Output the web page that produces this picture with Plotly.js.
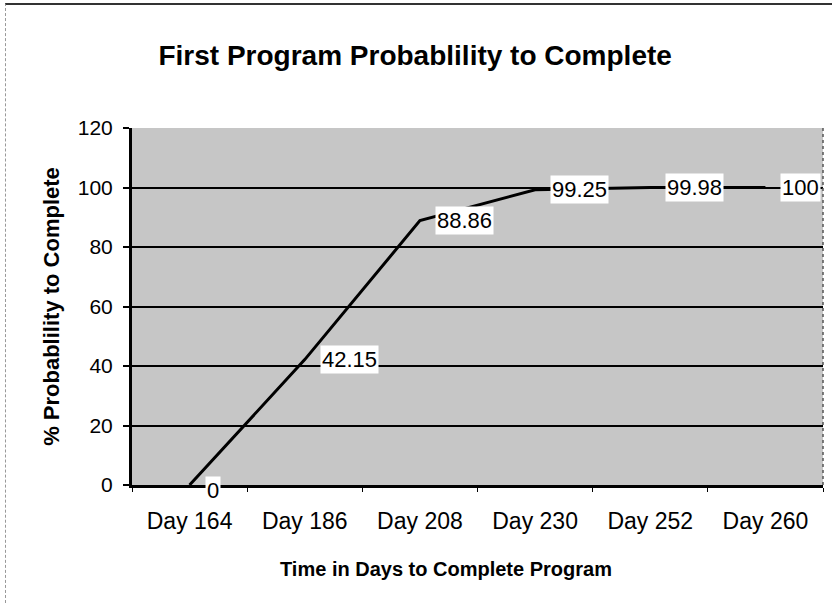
<!DOCTYPE html>
<html>
<head>
<meta charset="utf-8">
<script src="https://cdn.plot.ly/plotly-3.0.1.min.js"></script>
<style>
html,body{margin:0;padding:0;background:#fff;}
#chart{width:832px;height:603px;}
#frame{position:absolute;left:5px;top:3px;width:827px;height:600px;border-top:2px solid #333;border-left:1px dashed #999;pointer-events:none;box-sizing:border-box;}
</style>
</head>
<body>
<div id="chart"></div>
<div id="frame"></div>
<script>
var categories = ["Day 164", "Day 186", "Day 208", "Day 230", "Day 252", "Day 260"];
var probability = [0, 42.15, 88.86, 99.25, 99.98, 100];
var yTicks = [0, 20, 40, 60, 80, 100, 120];

var FONT = "Liberation Sans, Arial, Helvetica, sans-serif";

var trace = {
  x: categories,
  y: probability,
  type: "scatter",
  mode: "lines",
  line: {color: "#000", width: 3},
  hoverinfo: "skip"
};

var annotations = categories.map(function (c, i) {
  return {
    x: c, y: probability[i], xref: "x", yref: "y",
    text: String(probability[i]),
    showarrow: false,
    xanchor: "left", yanchor: "middle",
    xshift: 15, yshift: probability[i] === 0 ? -5 : 0,
    bgcolor: "#ffffff", borderpad: 1,
    font: {family: FONT, size: 22, color: "#000"}
  };
});

annotations.push({
  text: "<b>Time in Days to Complete Program</b>",
  xref: "paper", yref: "paper", x: 0.455, y: -0.236,
  xanchor: "center", yanchor: "middle", showarrow: false,
  font: {family: FONT, size: 20, color: "#000"}
});

var layout = {
  width: 832, height: 603,
  margin: {l: 132, r: 9, t: 128, b: 118},
  paper_bgcolor: "rgba(0,0,0,0)",
  plot_bgcolor: "#c6c6c6",
  showlegend: false,
  title: {
    text: "<b>First Program Probablility to Complete</b>",
    font: {family: FONT, size: 28, color: "#000"},
    xref: "container", yref: "container",
    x: 0.499, xanchor: "center", y: 0.909, yanchor: "middle"
  },
  xaxis: {
    type: "category",
    range: [-0.5, 5.5],
    tickson: "boundaries",
    ticks: "outside", ticklen: 4, tickwidth: 1, tickcolor: "#000",
    showline: true, linecolor: "#000", linewidth: 3,
    showgrid: false, zeroline: false,
    tickfont: {family: FONT, size: 23, color: "#000"},
    ticklabelstandoff: 13
  },
  yaxis: {
    range: [0, 120],
    tickvals: yTicks,
    ticks: "outside", ticklen: 6, tickwidth: 2, tickcolor: "#000",
    showline: true, linecolor: "#000", linewidth: 3,
    showgrid: true, gridcolor: "#000", gridwidth: 2,
    zeroline: false,
    tickfont: {family: FONT, size: 21, color: "#000"},
    ticklabelstandoff: 6,
    title: {text: "<b>% Probablility to Complete</b>", font: {family: FONT, size: 22, color: "#000"}, standoff: 13}
  },
  shapes: [
    {type: "line", xref: "paper", yref: "paper", x0: 1, x1: 1, y0: 0, y1: 1, line: {color: "#555", width: 1.5, dash: "dot"}}
  ],
  annotations: annotations
};

Plotly.newPlot("chart", [trace], layout, {displayModeBar: false, staticPlot: true});
</script>
</body>
</html>
